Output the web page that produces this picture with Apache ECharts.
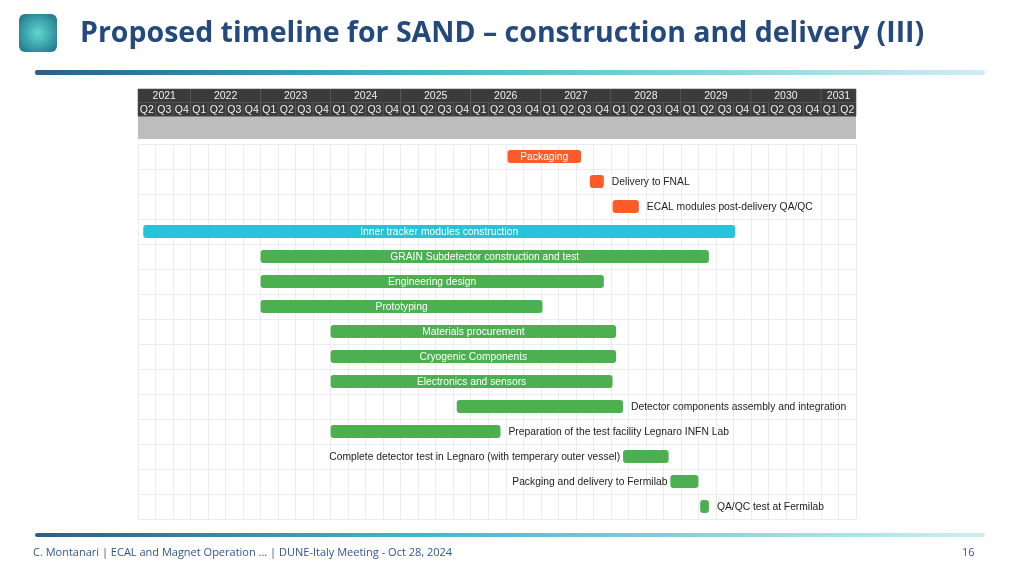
<!DOCTYPE html>
<html><head><meta charset="utf-8">
<script src="https://cdn.jsdelivr.net/npm/echarts@6/dist/echarts.min.js"></script>
<style>html,body{margin:0;padding:0;background:#fff}#c{width:1024px;height:576px}</style>
</head><body><div id="c"></div>
<script>
var years = ['2021','2022','2023','2024','2025','2026','2027','2028','2029','2030','2031'];
var yearStart = [0,3,7,11,15,19,23,27,31,35,39];
var yearEnd = [3,7,11,15,19,23,27,31,35,39,41];
var quarterLabels = ['Q2','Q3','Q4'];
for (var y=0;y<9;y++) quarterLabels.push('Q1','Q2','Q3','Q4');
quarterLabels.push('Q1','Q2');
var tasks = ['Packaging','Delivery to FNAL','ECAL modules post-delivery QA/QC','Inner tracker modules construction','GRAIN Subdetector construction and test','Engineering design','Prototyping','Materials procurement','Cryogenic Components','Electronics and sensors','Detector components assembly and integration','Preparation of the test facility Legnaro INFN Lab','Complete detector test in Legnaro (with temperary outer vessel)','Packging and delivery to Fermilab','QA/QC test at Fermilab'];
var taskStart = [21.1,25.8,27.1,0.3,7.0,7.0,7.0,11.0,11.0,11.0,18.2,11.0,27.7,30.4,32.1];
var taskEnd = [25.3,26.6,28.6,34.1,32.6,26.6,23.1,27.3,27.3,27.1,27.7,20.7,30.3,32.0,32.6];
var taskColor = ['o','o','o','c','g','g','g','g','g','g','g','g','g','g','g'];
var labelPos = ['in','right','right','in','in','in','in','in','in','in','right','right','left','left','right'];
var colors = {o:'#ff5a2a', c:'#27c3d9', g:'#4cb050'};

var headerData = [], headerText = [];
for (var i=0;i<years.length;i++){ headerData.push([yearStart[i], yearEnd[i], 2]); headerText.push(years[i]); }
for (var q=0;q<quarterLabels.length;q++){ headerData.push([q, q+1, 1]); headerText.push(quarterLabels[q]); }

var taskData = tasks.map(function(t,i){return [taskStart[i], taskEnd[i], i];});

var chart = echarts.init(document.getElementById('c'));
chart.setOption({
  animation:false,
  graphic:[
    {type:'rect',shape:{x:19,y:14,width:38,height:38,r:6},style:{fill:new echarts.graphic.RadialGradient(0.5,0.5,0.7,[{offset:0,color:'#5fd8d0'},{offset:1,color:'#1d6f86'}])}},
    {type:'text',left:80,top:19,style:{text:'Proposed timeline for SAND \u2013 construction and delivery (III)',font:'bold 28.5px "Open Sans"',fill:'#24497d'}},
    {type:'rect',shape:{x:35,y:70,width:950,height:5,r:2},style:{fill:new echarts.graphic.LinearGradient(0,0,1,0,[{offset:0,color:'#2b5f8a'},{offset:0.4,color:'#3fb8c8'},{offset:1,color:'#cfeef2'}])}},
    {type:'rect',shape:{x:35,y:533,width:950,height:4,r:2},style:{fill:new echarts.graphic.LinearGradient(0,0,1,0,[{offset:0,color:'#2b5f8a'},{offset:0.4,color:'#3fb8c8'},{offset:1,color:'#cfeef2'}])}},
    {type:'text',left:33,top:547,style:{text:'C. Montanari | ECAL and Magnet Operation ... | DUNE-Italy Meeting - Oct 28, 2024',font:'11px "Open Sans"',fill:'#2f5597'}},
    {type:'text',left:962,top:547,style:{text:'16',font:'11px "Open Sans"',fill:'#2f5597'}}
  ],
  grid:[
    {left:138,right:168,top:89,height:50},
    {left:138,right:168,top:144,height:375}
  ],
  xAxis:[
    {gridIndex:0,type:'value',min:0,max:41,show:false},
    {gridIndex:1,type:'value',min:0,max:41,interval:1,axisLabel:{show:false},axisTick:{show:false},axisLine:{show:false},splitLine:{show:true,lineStyle:{color:'#ececec'}}}
  ],
  yAxis:[
    {gridIndex:0,type:'value',min:0,max:2.2,show:false},
    {gridIndex:1,type:'category',inverse:true,data:tasks,axisLabel:{show:false},axisTick:{show:false},axisLine:{show:false},splitLine:{show:true,lineStyle:{color:'#ececec'}}}
  ],
  series:[
    {type:'custom',xAxisIndex:0,yAxisIndex:0,data:headerData,
     renderItem:function(params,api){
       var row=api.value(2);
       var top = row===2 ? 2.2 : 1.6;
       var bot = row===2 ? 1.6 : 1;
       var p0=api.coord([api.value(0),top]);
       var p1=api.coord([api.value(1),bot]);
       var g0=api.coord([0,1]), g1=api.coord([41,0]);
       var children=[];
       if(params.dataIndex===0){
         children.push({type:'rect',shape:{x:g0[0],y:g0[1],width:g1[0]-g0[0],height:g1[1]-g0[1]},style:{fill:'#bdbdbd'}});
       }
       children.push({type:'rect',shape:{x:p0[0],y:p0[1],width:p1[0]-p0[0],height:p1[1]-p0[1]},style:{fill:'#3b3b3b',stroke:'#555',lineWidth:0.6}});
       children.push({type:'text',style:{x:(p0[0]+p1[0])/2,y:(p0[1]+p1[1])/2+0.5,text:headerText[params.dataIndex],fill:'#eeeeee',font:'10.5px "Liberation Sans"',align:'center',verticalAlign:'middle'}});
       return {type:'group',children:children};
     }},
    {type:'custom',xAxisIndex:1,yAxisIndex:1,data:taskData,
     encode:{x:[0,1],y:2},
     renderItem:function(params,api){
       var i=params.dataIndex;
       var s=api.coord([api.value(0),i]), e=api.coord([api.value(1),i]);
       var h=13;
       var col=colors[taskColor[i]];
       var children=[{type:'rect',shape:{x:s[0],y:s[1]-h/2,width:e[0]-s[0],height:h,r:3},style:{fill:col}}];
       var pos=labelPos[i], tx, al;
       if(pos==='in'){tx=(s[0]+e[0])/2;al='center';}
       else if(pos==='right'){tx=e[0]+8;al='left';}
       else {tx=s[0]-3;al='right';}
       children.push({type:'text',style:{x:tx,y:s[1]+0.5,text:tasks[i],align:al,verticalAlign:'middle',fill:pos==='in'?'#ffffff':'#222',font:'10.3px "Liberation Sans"'}});
       return {type:'group',children:children};
     }}
  ]
});
</script></body></html>
